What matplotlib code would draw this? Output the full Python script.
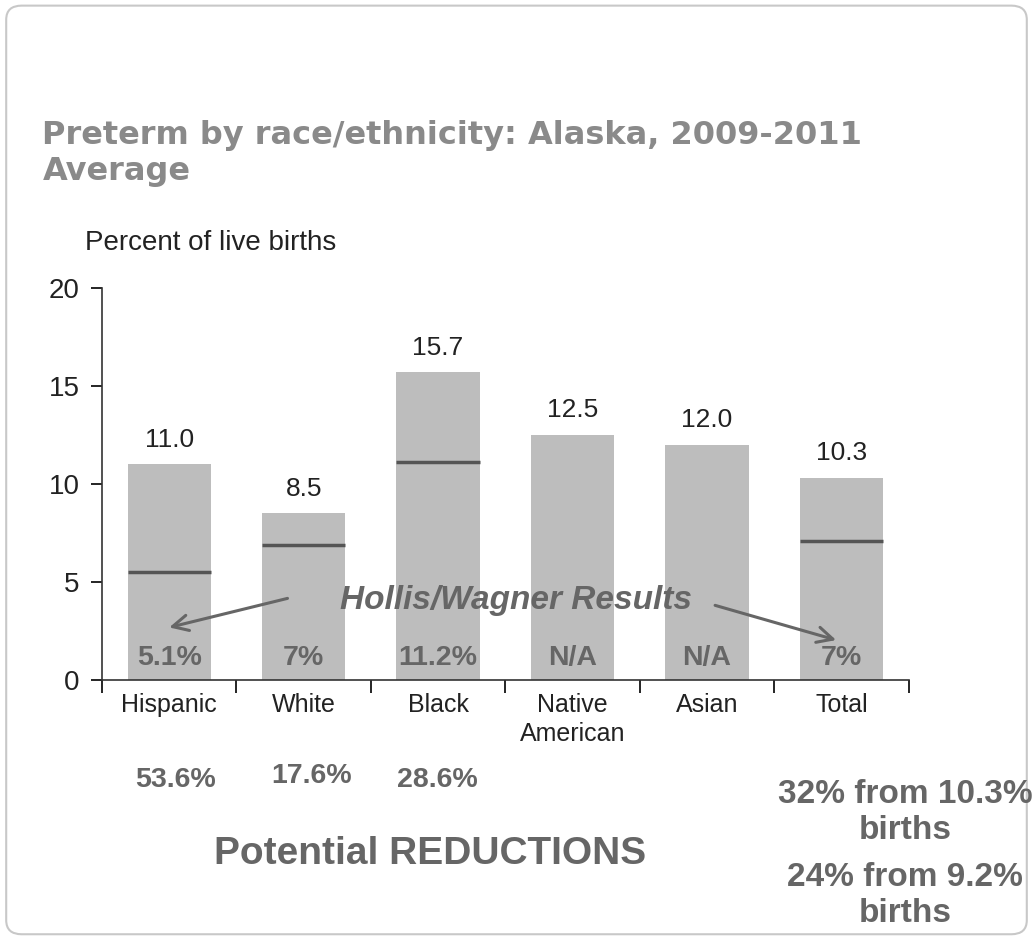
import matplotlib.pyplot as plt
from matplotlib.patches import FancyBboxPatch

categories = ["Hispanic", "White", "Black", "Native\nAmerican", "Asian", "Total"]
preterm = [11.0, 8.5, 15.7, 12.5, 12.0, 10.3]
value_labels = ["11.0", "8.5", "15.7", "12.5", "12.0", "10.3"]
# Hollis/Wagner result levels (None = not available)
hw_levels = [5.5, 6.9, 11.1, None, None, 7.1]
hw_labels = ["5.1%", "7%", "11.2%", "N/A", "N/A", "7%"]
reductions = ["53.6%", "17.6%", "28.6%"]

BAR = "#bdbdbd"
TXT = "#666666"
DARK = "#222222"

plt.rcParams['font.family'] = ['Liberation Sans', 'DejaVu Sans']

fig = plt.figure(figsize=(10.33, 9.38), dpi=100)
fig.patches.append(FancyBboxPatch((0.006, 0.004), 0.988, 0.99,
                                  boxstyle="round,pad=0,rounding_size=0.015",
                                  transform=fig.transFigure, fill=False,
                                  edgecolor="#c8c8c8", linewidth=1.5))

ax = fig.add_axes([0.0987, 0.275, 0.781, 0.418])
x = list(range(len(categories)))
ax.bar(x, preterm, width=0.62, color=BAR, zorder=1)

for i, v in enumerate(preterm):
    ax.text(i, v + 0.65, value_labels[i], ha="center", va="bottom",
            fontsize=19, color=DARK)
    if hw_levels[i] is not None:
        ax.hlines(hw_levels[i], i - 0.31, i + 0.31, color="#555555",
                  linewidth=2.5, zorder=2)
    ax.text(i, 0.45, hw_labels[i], ha="center", va="bottom", fontsize=20.5,
            fontweight="bold", color=TXT, zorder=3)

ax.text(2.58, 4.05, "Hollis/Wagner Results", ha="center", va="center",
        fontsize=24, fontweight="bold", fontstyle="italic", color=TXT)
ax.annotate("", xy=(-0.02, 2.65), xytext=(0.9, 4.2),
            arrowprops=dict(arrowstyle="->", color=TXT, lw=2.2,
                            mutation_scale=28))
ax.annotate("", xy=(4.98, 2.0), xytext=(4.04, 3.85),
            arrowprops=dict(arrowstyle="->", color=TXT, lw=2.2,
                            mutation_scale=28))

ax.set_xlim(-0.5, 5.5)
ax.set_ylim(0, 20)
ax.set_yticks([0, 5, 10, 15, 20])
ax.tick_params(axis="y", labelsize=20, length=8, width=1.2, pad=8,
               labelcolor=DARK)
ax.set_xticks(x)
ax.set_xticklabels(categories, fontsize=18, color=DARK, linespacing=1.3)
ax.tick_params(axis="x", length=0, pad=9)
ax.set_xticks([i + 0.5 for i in range(-1, 6)], minor=True)
ax.tick_params(axis="x", which="minor", length=9, width=1.2)
for s in ["top", "right"]:
    ax.spines[s].set_visible(False)
for s in ["left", "bottom"]:
    ax.spines[s].set_linewidth(1.2)
    ax.spines[s].set_color("#333333")

fig.text(0.041, 0.836, "Preterm by race/ethnicity: Alaska, 2009-2011\nAverage",
         ha="left", va="center", fontsize=23, fontweight="bold", color="#8a8a8a",
         linespacing=1.2, family="DejaVu Sans")
fig.text(0.082, 0.741, "Percent of live births", ha="left", va="center",
         fontsize=20, color=DARK)

red_x = [0.170, 0.302, 0.423]
red_y = [0.168, 0.173, 0.168]
for xp, yp, t in zip(red_x, red_y, reductions):
    fig.text(xp, yp, t, ha="center", va="center", fontsize=20.5,
             fontweight="bold", color=TXT)
fig.text(0.416, 0.09, "Potential REDUCTIONS", ha="center", va="center",
         fontsize=28, fontweight="bold", color=TXT)
fig.text(0.876, 0.134, "32% from 10.3%\nbirths", ha="center", va="center",
         fontsize=24, fontweight="bold", color=TXT, linespacing=1.22)
fig.text(0.876, 0.045, "24% from 9.2%\nbirths", ha="center", va="center",
         fontsize=24, fontweight="bold", color=TXT, linespacing=1.22)

fig.savefig("out.png", dpi=100)
